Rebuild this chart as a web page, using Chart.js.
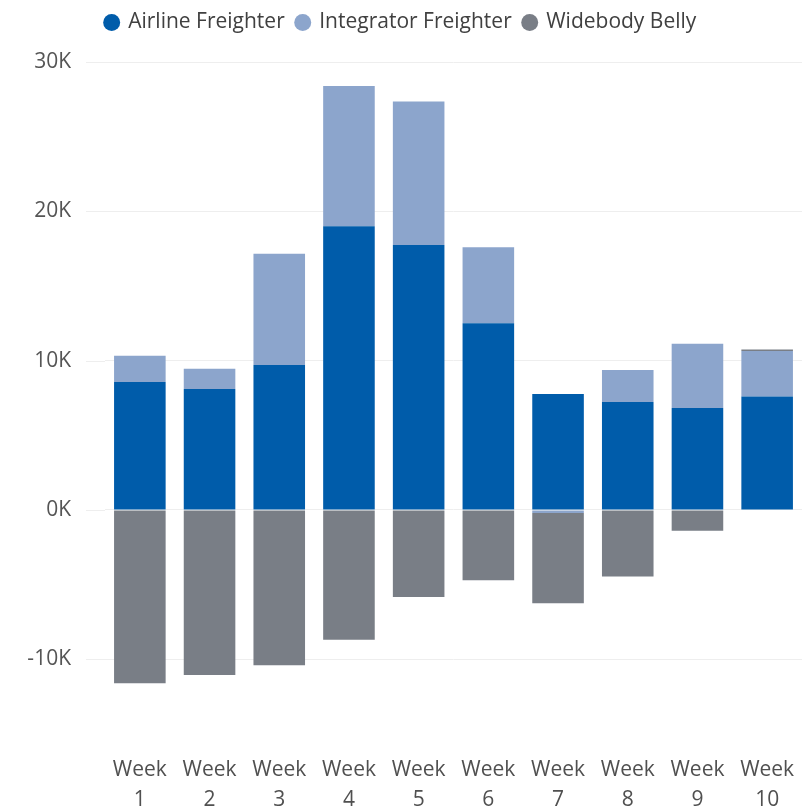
<!doctype html>
<html lang="en">
  <head>
    <meta charset="utf-8">
    <title>Freighter capacity by week</title>
    <style>
      * { margin: 0; padding: 0; }
      body { background: #fff; }
      .chartBox { width: 802px; height: 811px; }
    </style>
  </head>
  <body>
    <div class="chartBox">
      <canvas id="myChart"></canvas>
    </div>
    <script src="https://cdn.jsdelivr.net/npm/chart.js/dist/chart.umd.min.js"></script>
    <script>
    // data
    const weeks = ['Week 1', 'Week 2', 'Week 3', 'Week 4', 'Week 5', 'Week 6', 'Week 7', 'Week 8', 'Week 9', 'Week 10']
    const airlineFreighter = [8570, 8100, 9700, 19000, 17750, 12500, 7770, 7230, 6830, 7600]
    const integratorFreighter = [1750, 1350, 7450, 9400, 9600, 5100, -200, 2150, 4300, 3050]
    const widebodyBelly = [-11600, -11050, -10400, -8700, -5830, -4700, -6050, -4450, -1400, 100]
    const yTicks = [-10000, 0, 10000, 20000, 30000]

    const fontFamily = "'Open Sans', 'Noto Sans', sans-serif"

    // legend box is made taller so the plot starts lower, legend stays at the top
    const legendSpace = {
      id: 'legendSpace',
      beforeInit(chart) {
        const fitLegend = chart.legend.fit
        chart.legend.fit = function fit() {
          fitLegend.bind(chart.legend)()
          this.height = 62
        }
      }
    }

    // gridlines start a bit left of the plot area, like the original
    const gridLead = {
      id: 'gridLead',
      beforeDatasetsDraw(chart) {
        const { ctx, chartArea: { left }, scales: { y } } = chart
        ctx.save()
        ctx.strokeStyle = '#eeeeee'
        ctx.lineWidth = 1
        y.ticks.forEach(t => {
          const py = Math.round(y.getPixelForValue(t.value)) + 0.5
          ctx.beginPath()
          ctx.moveTo(86, py)
          ctx.lineTo(left, py)
          ctx.stroke()
        })
        ctx.restore()
      }
    }

    const data = {
      labels: weeks.map(w => w.split(' ')),
      datasets: [
        { label: 'Airline Freighter', data: airlineFreighter, backgroundColor: '#005CAA' },
        { label: 'Integrator Freighter', data: integratorFreighter, backgroundColor: '#8CA5CC' },
        { label: 'Widebody Belly', data: widebodyBelly, backgroundColor: '#797E86' },
      ]
    }

    const config = {
      type: 'bar',
      data,
      plugins: [legendSpace, gridLead],
      options: {
        responsive: true,
        maintainAspectRatio: false,
        animation: false,
        layout: { padding: 0 },
        datasets: {
          bar: { barPercentage: 0.74, categoryPercentage: 1 }
        },
        plugins: {
          tooltip: { enabled: false },
          legend: {
            position: 'top',
            align: 'center',
            labels: {
              usePointStyle: true,
              pointStyle: 'circle',
              boxWidth: 12,
              boxHeight: 12,
              padding: 12,
              color: '#404040',
              font: { family: fontFamily, size: 21 }
            }
          }
        },
        scales: {
          x: {
            stacked: true,
            afterFit: scale => {
              scale.height = 92
              scale.paddingLeft = 0
              scale.paddingRight = 0
            },
            grid: { display: false, drawTicks: false },
            border: { display: false },
            ticks: {
              color: '#505050',
              padding: 36,
              maxRotation: 0,
              autoSkip: false,
              font: { family: fontFamily, size: 21, lineHeight: 1.43 }
            }
          },
          y: {
            stacked: true,
            min: -14000,
            max: 30000,
            afterBuildTicks: scale => {
              scale.ticks = yTicks.map(v => ({ value: v }))
            },
            afterFit: scale => { scale.width = 105 },
            grid: { color: '#eeeeee', drawTicks: false },
            border: { display: false },
            ticks: {
              color: '#555555',
              padding: 34,
              font: { family: fontFamily, size: 21 },
              callback: v => (v / 1000) + 'K'
            }
          }
        }
      }
    }

    const ctx = document.getElementById('myChart')
    const myChart = new Chart(ctx, config)
    </script>
  </body>
</html>
